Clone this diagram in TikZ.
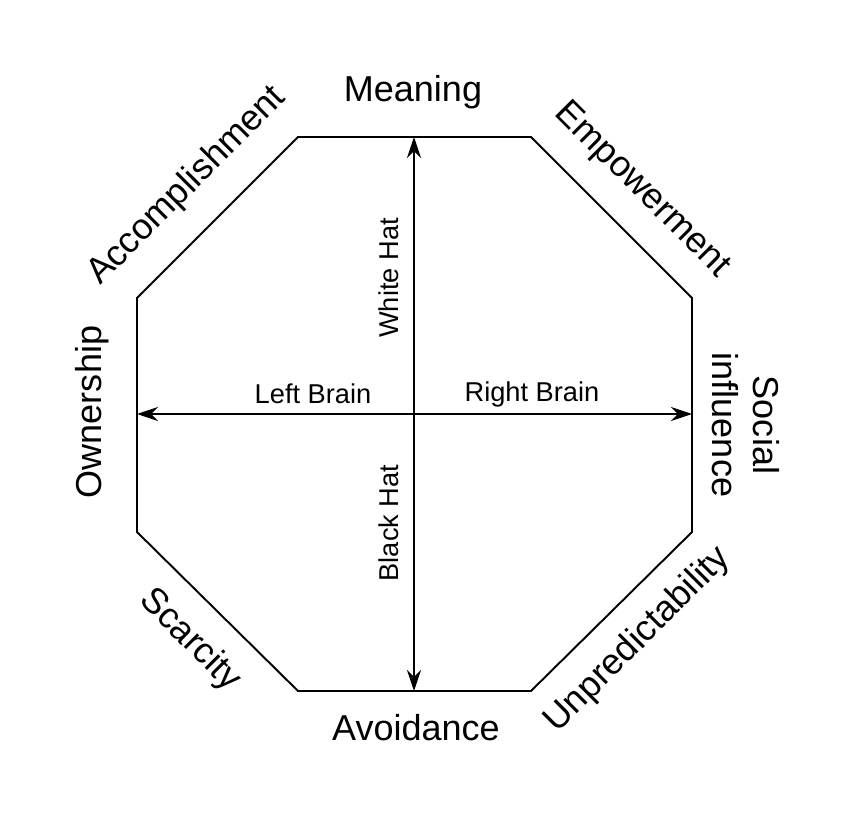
\documentclass[tikz,border=0pt]{standalone}
\usepackage{fontspec}
\setmainfont{Liberation Sans}
\usetikzlibrary{arrows.meta}
\begin{document}
\begin{tikzpicture}[x=0.02cm,y=-0.02cm,
  big/.style={font=\fontsize{20.5}{23}\selectfont},
  small/.style={font=\fontsize{15.5}{18}\selectfont},
  axis/.style={line width=1.1pt,{Stealth[length=12pt,width=8pt]}-{Stealth[length=12pt,width=8pt]}}]
\useasboundingbox (0,0) rectangle (850,831);
%octagon
\draw[line width=1.1pt] (298,137) -- (531,137) -- (692,298) -- (692,532) -- (531,691)
  -- (298,691) -- (137,532) -- (137,298) -- cycle;
%axes
\coordinate (top) at (414,137);
\coordinate (bot) at (414,691);
\coordinate (lft) at (137,414);
\coordinate (rgt) at (692,414);
\draw[axis] (top) -- (bot);
\draw[axis] (lft) -- (rgt);
\node[small,rotate=90] (white) at (389,278) {White Hat};
\node[small,rotate=90] (black) at (389,523) {Black Hat};
\node[small] (left) at (313,394) {Left Brain};
\node[small] (right) at (532,394) {Right Brain};
%labels
\node[big] (meaning) at (413,92) {Meaning};
\node[big] (avoid) at (416,728) {Avoidance};
\node[big,rotate=45] (accomp) at (187,186) {Accomplishment};
\node[big,rotate=-45] (empow) at (642,190) {Empowerment};
\node[big,rotate=90] (owner) at (92,412) {Ownership};
\node[big,rotate=-90,align=center] (social) at (746,425) {Social\\influence};
\node[big,rotate=-45] (scarce) at (190,640) {Scarcity};
\node[big,rotate=45] (unpred) at (638,640) {Unpredictability};
\end{tikzpicture}
\end{document}
